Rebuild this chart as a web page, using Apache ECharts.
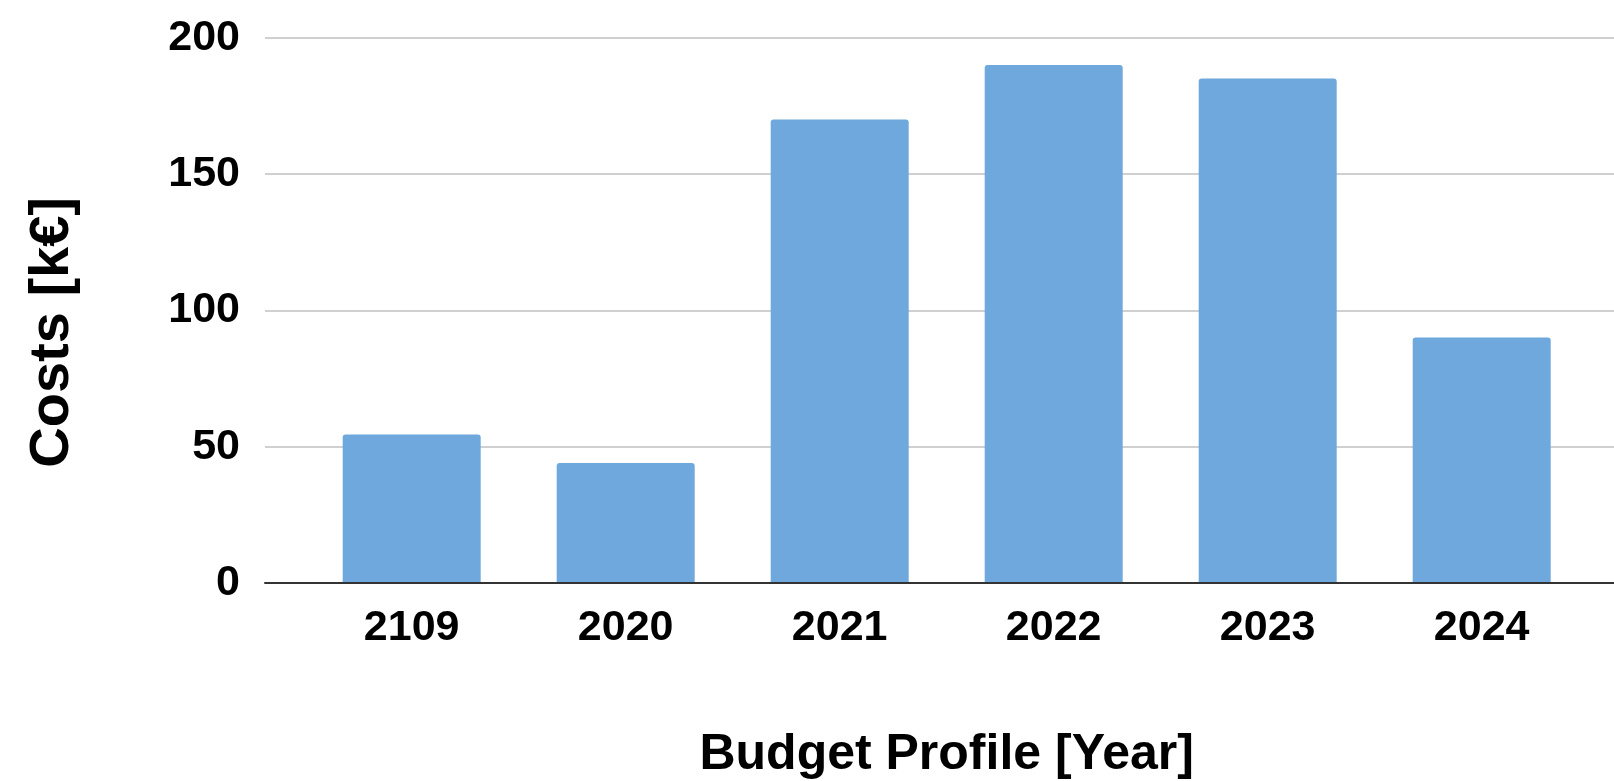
<!DOCTYPE html>
<html>
<head>
<meta charset="utf-8">
<title>Budget Profile</title>
<script src="https://cdn.jsdelivr.net/npm/echarts@6/dist/echarts.min.js"></script>
<style>
  html, body { margin: 0; padding: 0; background: #ffffff; }
  #chart { width: 1614px; height: 781px; }
</style>
</head>
<body>
<div id="chart"></div>
<script>
// Budget profile per year, costs in k€
const years = ['2109', '2020', '2021', '2022', '2023', '2024'];
const costs = [54.5, 44, 170, 190, 185, 90];
const yMin = 0;
const yMax = 200;
const yStep = 50;

const FONT = '"Liberation Sans", Arial, Helvetica, sans-serif';
const BAR_COLOR = '#6fa8dc';

const chart = echarts.init(document.getElementById('chart'), null, { renderer: 'canvas' });

chart.setOption({
  backgroundColor: '#ffffff',
  animation: false,
  // grid 0 carries the value scale, gridlines and baseline across the full width;
  // grid 1 holds the year bands and the bars
  grid: [
    { left: 265, right: 0, top: 37.7, bottom: 198, outerBoundsMode: 'none' },
    { left: 304.7, right: 25.3, top: 37.7, bottom: 198, outerBoundsMode: 'none' }
  ],
  xAxis: [
    {
      type: 'category',
      gridIndex: 0,
      data: years,
      z: 3,
      axisLine: { show: true, lineStyle: { color: '#333333', width: 2 } },
      axisTick: { show: false },
      axisLabel: { show: false },
      splitLine: { show: false }
    },
    {
      type: 'category',
      gridIndex: 1,
      data: years,
      axisLine: { show: false },
      axisTick: { show: false },
      axisLabel: {
        margin: 24,
        color: '#000000',
        fontFamily: FONT,
        fontWeight: 'bold',
        fontSize: 43
      },
      name: 'Budget Profile [Year]',
      nameLocation: 'middle',
      nameGap: 147,
      nameTextStyle: {
        color: '#000000',
        fontFamily: FONT,
        fontWeight: 'bold',
        fontSize: 50
      }
    }
  ],
  yAxis: [
    {
      type: 'value',
      gridIndex: 0,
      min: yMin,
      max: yMax,
      interval: yStep,
      axisLine: { show: false },
      axisTick: { show: false },
      axisLabel: {
        margin: 25,
        color: '#000000',
        fontFamily: FONT,
        fontWeight: 'bold',
        fontSize: 43
      },
      splitLine: { show: true, lineStyle: { color: '#d0d0d0', width: 2 } },
      name: 'Costs [k€]',
      nameLocation: 'middle',
      nameGap: 184,
      nameTextStyle: {
        color: '#000000',
        fontFamily: FONT,
        fontWeight: 'bold',
        fontSize: 56,
        padding: [0, 44, 0, 0]
      }
    },
    {
      type: 'value',
      gridIndex: 1,
      min: yMin,
      max: yMax,
      interval: yStep,
      show: false
    }
  ],
  series: [
    {
      type: 'bar',
      xAxisIndex: 1,
      yAxisIndex: 1,
      data: costs,
      barWidth: 138,
      itemStyle: { color: BAR_COLOR, borderRadius: [3, 3, 0, 0] }
    }
  ]
});
</script>
</body>
</html>
